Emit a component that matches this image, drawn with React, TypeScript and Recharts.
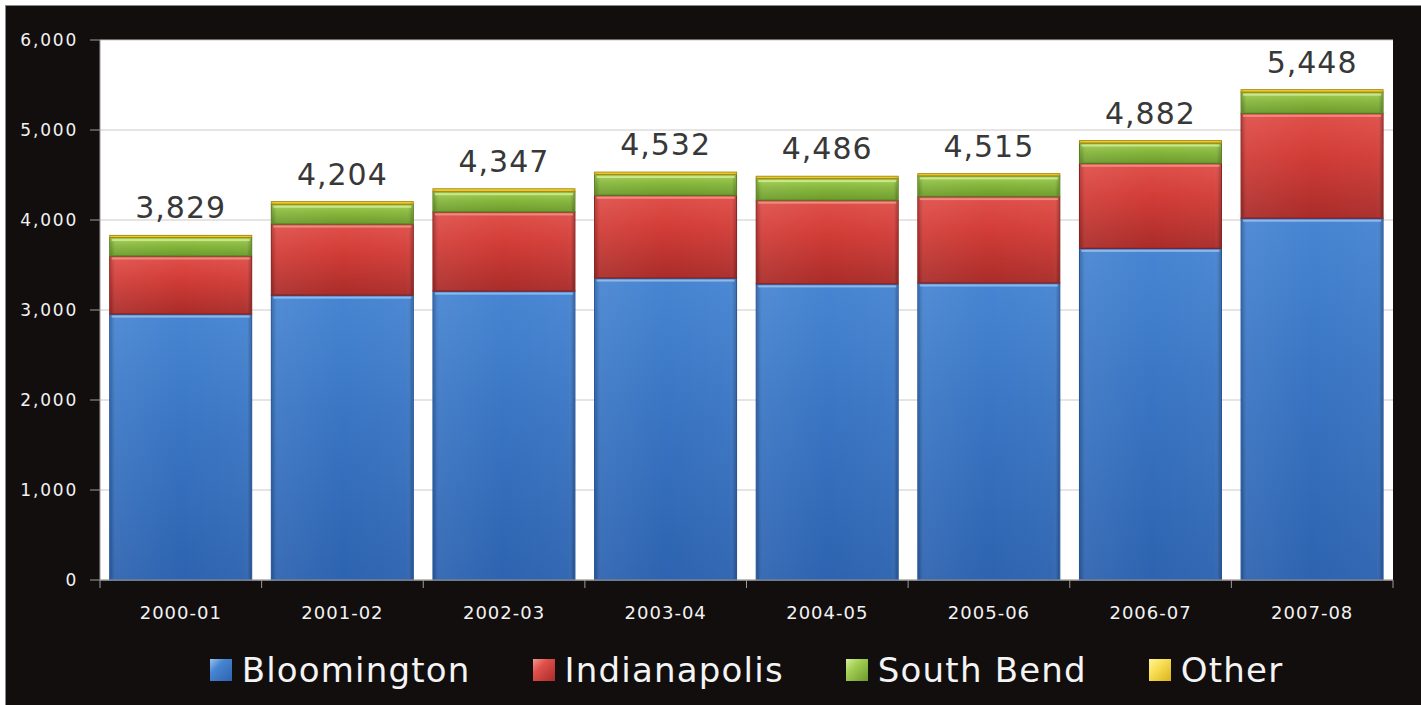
import React from "react";
import { BarChart, Bar, XAxis, YAxis, CartesianGrid, Legend, LabelList } from "recharts";

const categories = ["2000-01", "2001-02", "2002-03", "2003-04", "2004-05", "2005-06", "2006-07", "2007-08"];
const bloomington = [2955, 3165, 3210, 3355, 3290, 3300, 3685, 4020];
const indianapolis = [645, 790, 880, 920, 930, 960, 945, 1165];
const southBend = [205, 220, 225, 230, 240, 230, 225, 235];
const other = [24, 29, 32, 27, 26, 25, 27, 28];
const totals = [3829, 4204, 4347, 4532, 4486, 4515, 4882, 5448];
const yTicks = [0, 1000, 2000, 3000, 4000, 5000, 6000];

const data = categories.map((c, i) => ({
  name: c,
  Bloomington: bloomington[i],
  Indianapolis: indianapolis[i],
  "South Bend": southBend[i],
  Other: other[i],
  total: totals[i],
}));

const FONT = "'DejaVu Sans', Verdana, sans-serif";

const series = [
  { key: "Bloomington", id: "blue", top: "#4785d2", mid: "#3a76c4", bot: "#2d63b0", edge: "#24508f", hi: "#9cc4f2" },
  { key: "Indianapolis", id: "red", top: "#e0504a", mid: "#d23c37", bot: "#a92c29", edge: "#7e201e", hi: "#f09a90" },
  { key: "South Bend", id: "green", top: "#a4cf55", mid: "#88b83d", bot: "#6b9a2b", edge: "#55791f", hi: "#d3ef9a" },
  { key: "Other", id: "yellow", top: "#fbe25a", mid: "#f3cf2c", bot: "#d9b21c", edge: "#a88a10", hi: "#fff2a0" },
];

const makeShape = (s: any) => (props: any) => {
  const { x, y, width, height } = props;
  if (!height || height <= 0) return <g />;
  return (
    <g>
      <rect x={x} y={y} width={width} height={height} fill={`url(#v-${s.id})`} stroke={s.edge} strokeWidth={1} />
      <rect x={x + 1} y={y + 1} width={Math.max(0, width - 2)} height={Math.max(0, height - 2)} fill="url(#h-side)" />
      {height > 5 && (
        <rect x={x + 2} y={y + 1.5} width={Math.max(0, width - 4)} height={2} fill={s.hi} opacity={0.8} />
      )}
    </g>
  );
};

const XTick = (props: any) => {
  const { x, y, payload, index, width, visibleTicksCount } = props;
  const band = width / visibleTicksCount;
  const axisY = y - 8;
  return (
    <g>
      <line x1={x - band / 2} y1={axisY} x2={x - band / 2} y2={axisY + 8} stroke="#9a9a9a" />
      {index === visibleTicksCount - 1 && (
        <line x1={x + band / 2} y1={axisY} x2={x + band / 2} y2={axisY + 8} stroke="#9a9a9a" />
      )}
      <text x={x} y={axisY + 39} textAnchor="middle" fill="#f2f2f2" fontSize={18} fontFamily={FONT} letterSpacing={1}>
        {payload.value}
      </text>
    </g>
  );
};

const TotalLabel = (props: any) => {
  const { x, y, width, index } = props;
  return (
    <text x={x + width / 2} y={y - 17} textAnchor="middle" fill="#383838" fontSize={30} fontFamily={FONT} letterSpacing={1}>
      {totals[index].toLocaleString("en-US")}
    </text>
  );
};

const LegendContent = () => (
  <div style={{ display: "flex", justifyContent: "center", alignItems: "center", height: 40, fontFamily: FONT }}>
    {series.map((s, i) => (
      <div key={s.key} style={{ display: "flex", alignItems: "center", marginLeft: i === 0 ? 0 : 62 }}>
        <div
          style={{
            width: 22,
            height: 22,
            marginRight: 10,
            background: `linear-gradient(135deg, ${s.hi} 0%, ${s.top} 35%, ${s.bot} 100%)`,
          }}
        />
        <span style={{ color: "#f4f4f4", fontSize: 34, letterSpacing: 1.2, lineHeight: "40px" }}>{s.key}</span>
      </div>
    ))}
  </div>
);

export default function App() {
  return (
    <div style={{ position: "absolute", left: 0, top: 0, width: 1421, height: 705, background: "#fff", overflow: "hidden" }}>
      <div
        style={{
          position: "absolute",
          left: 5,
          top: 5,
          width: 1416,
          height: 700,
          background: "#120e0e",
          borderTop: "1px solid #8a8a8a",
          borderLeft: "1px solid #8a8a8a",
        }}
      />
      <div style={{ position: "absolute", left: 0, top: 0 }}>
        <BarChart
          width={1421}
          height={705}
          data={data}
          margin={{ top: 40, right: 28, left: 0, bottom: 55 }}
          barCategoryGap="6%"
        >
          <defs>
            {series.map((s) => (
              <linearGradient key={s.id} id={`v-${s.id}`} x1="0" y1="0" x2="0" y2="1">
                <stop offset="0%" stopColor={s.top} />
                <stop offset="40%" stopColor={s.mid} />
                <stop offset="100%" stopColor={s.bot} />
              </linearGradient>
            ))}
            <linearGradient id="h-side" x1="0" y1="0" x2="1" y2="0">
              <stop offset="0%" stopColor="#000" stopOpacity={0.18} />
              <stop offset="4%" stopColor="#fff" stopOpacity={0.06} />
              <stop offset="50%" stopColor="#fff" stopOpacity={0} />
              <stop offset="96%" stopColor="#fff" stopOpacity={0.03} />
              <stop offset="100%" stopColor="#000" stopOpacity={0.2} />
            </linearGradient>
          </defs>
          <CartesianGrid vertical={false} stroke="#cfc8c8" fill="#ffffff" />
          <XAxis
            dataKey="name"
            axisLine={{ stroke: "#9a9a9a" }}
            tickLine={false}
            tickSize={6}
            tickMargin={2}
            height={30}
            tick={<XTick />}
            interval={0}
          />
          <YAxis
            width={100}
            domain={[0, 6000]}
            ticks={yTicks}
            interval={0}
            axisLine={{ stroke: "#9a9a9a" }}
            tickLine={{ stroke: "#9a9a9a" }}
            tickSize={10}
            tickMargin={12}
            tickFormatter={(v: number) => v.toLocaleString("en-US")}
            tick={{ fill: "#f2f2f2", fontSize: 17, fontFamily: FONT, letterSpacing: 1.8 }}
          />
          <Legend
            verticalAlign="bottom"
            content={<LegendContent />}
            wrapperStyle={{ left: 100, width: 1293, top: 650, height: 40 }}
          />
          {series.map((s) => (
            <Bar key={s.key} dataKey={s.key} stackId="a" fill={s.mid} shape={makeShape(s)} isAnimationActive={false}>
              {s.key === "Other" && <LabelList dataKey="total" content={<TotalLabel />} />}
            </Bar>
          ))}
        </BarChart>
      </div>
    </div>
  );
}
